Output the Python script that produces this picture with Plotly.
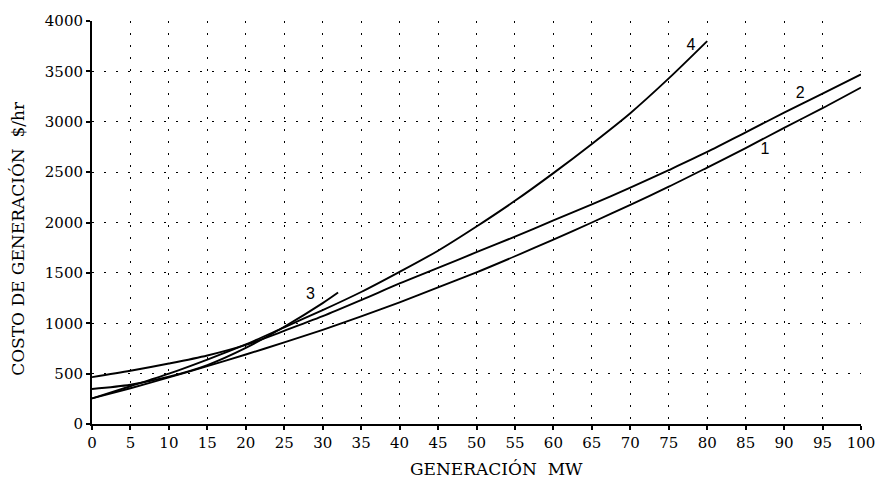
import plotly.graph_objects as go

# Data
x_full = [0, 5, 10, 15, 20, 25, 30, 35, 40, 45, 50, 55, 60, 65, 70, 75, 80, 85, 90, 95, 100]
curve1 = [254, 355, 462, 575, 690, 810, 935, 1068, 1208, 1355, 1505, 1665, 1830, 2000, 2175,
          2355, 2545, 2738, 2940, 3135, 3340]
curve2 = [465, 528, 600, 680, 785, 925, 1070, 1230, 1395, 1550, 1705, 1860, 2020, 2180, 2345,
          2520, 2700, 2895, 3090, 3280, 3470]
x_c3 = [0, 5, 10, 15, 20, 25, 30, 32]
curve3 = [348, 390, 470, 585, 755, 965, 1200, 1305]
x_c4 = [0, 5, 10, 15, 20, 25, 30, 35, 40, 45, 50, 55, 60, 65, 70, 75, 80]
curve4 = [254, 375, 500, 640, 790, 960, 1130, 1310, 1510, 1720, 1960, 2215, 2490, 2780, 3085,
          3430, 3800]

labels = ["1", "2", "3", "4"]
label_x = [87.5, 92.1, 28.4, 77.9]
label_y = [2722, 3275, 1281, 3753]

x_ticks = list(range(0, 101, 5))
y_ticks = list(range(0, 4001, 500))

FONT = "DejaVu Serif, Liberation Serif, serif"

fig = go.Figure()
line_style = dict(color="black", width=1.9)
for xs, ys in [(x_full, curve1), (x_full, curve2), (x_c3, curve3), (x_c4, curve4)]:
    fig.add_trace(go.Scatter(x=xs, y=ys, mode="lines", line=dict(shape="spline", smoothing=0.8, **line_style),
                             showlegend=False, hoverinfo="skip"))

fig.add_trace(go.Scatter(x=label_x, y=label_y, mode="text", text=labels,
                         textfont=dict(family="Liberation Sans, Arial, sans-serif", size=16, color="black"),
                         showlegend=False, hoverinfo="skip"))

fig.update_layout(
    width=887, height=487,
    margin=dict(l=92, r=19, t=14, b=63),
    paper_bgcolor="white", plot_bgcolor="white",
    font=dict(family=FONT, size=15, color="black"),
    annotations=[
        dict(text="GENERACIÓN\u00a0\u00a0MW", xref="paper", yref="paper", x=0.526, y=-0.112,
             xanchor="center", yanchor="middle", showarrow=False, font=dict(family=FONT, size=17)),
        dict(text="COSTO DE GENERACIÓN\u00a0\u00a0$/hr", xref="paper", yref="paper", x=-0.0954, y=0.461,
             xanchor="center", yanchor="middle", textangle=-90, showarrow=False, font=dict(family=FONT, size=17)),
    ],
)
fig.update_xaxes(
    range=[0, 100], tickvals=x_ticks, ticktext=[str(v) for v in x_ticks],
    showline=True, linecolor="black", linewidth=2, mirror=False,
    showgrid=True, gridcolor="black", gridwidth=1, griddash="2px,10px",
    zeroline=False, ticks="outside", ticklen=4, tickcolor="black", tickwidth=1.5,
    tickfont=dict(family=FONT, size=15),
)
fig.update_yaxes(
    range=[0, 4000], tickvals=y_ticks, ticktext=[str(v) for v in y_ticks],
    showline=True, linecolor="black", linewidth=2, mirror=False,
    showgrid=True, gridcolor="black", gridwidth=1, griddash="2px,10px",
    zeroline=False, ticks="outside", ticklen=4, tickcolor="black", tickwidth=1.5,
    tickfont=dict(family=FONT, size=15),
)

fig.write_html("out.html")
